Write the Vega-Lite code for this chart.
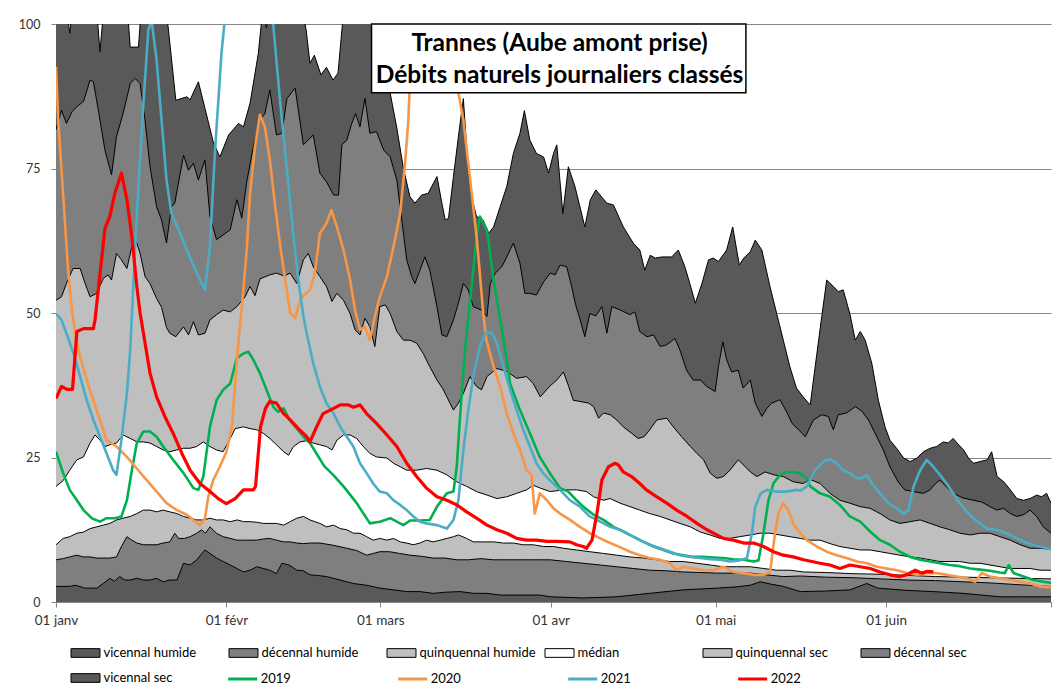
{
"$schema": "https://vega.github.io/schema/vega-lite/v6.json",
"width": 995,
"height": 578,
"autosize": {"type": "none"},
"padding": {"left": 56, "top": 24, "right": 7, "bottom": 92},
"background": "#ffffff",
"config": {"view": {"stroke": null}, "font": "Lato"},
"datasets": {
"vh": [{"d":0,"v":106},{"d":1.9,"v":103},{"d":2.5,"v":98.4},{"d":3.1,"v":103},{"d":7.2,"v":105},{"d":8,"v":95.2},{"d":8.8,"v":104},{"d":12.9,"v":104},{"d":13.5,"v":96},{"d":15,"v":96},{"d":15.6,"v":104},{"d":19.5,"v":105},{"d":20.4,"v":99.5},{"d":21.8,"v":86.8},{"d":23.8,"v":87.4},{"d":24.4,"v":86.9},{"d":25.9,"v":90},{"d":27.1,"v":85.4},{"d":28.6,"v":79.6},{"d":29.8,"v":77},{"d":31.4,"v":80.8},{"d":33.2,"v":82.8},{"d":34.1,"v":82.2},{"d":35.3,"v":86.3},{"d":36.8,"v":94.9},{"d":37.4,"v":100.5},{"d":37.9,"v":101},{"d":38.3,"v":99.3},{"d":38.8,"v":103},{"d":44.5,"v":104},{"d":45.5,"v":99},{"d":46.2,"v":93.2},{"d":47,"v":94.6},{"d":48.2,"v":91.2},{"d":49.2,"v":92.5},{"d":50.4,"v":90.3},{"d":51.3,"v":91.5},{"d":52.2,"v":101},{"d":53,"v":105},{"d":59.5,"v":102},{"d":60.8,"v":88},{"d":62,"v":82},{"d":63.2,"v":75},{"d":64.4,"v":70.1},{"d":65.3,"v":69},{"d":66.5,"v":70.4},{"d":67.7,"v":70.7},{"d":69.3,"v":73.6},{"d":70.2,"v":69},{"d":70.8,"v":66.1},{"d":71.4,"v":66.4},{"d":72.3,"v":73.6},{"d":73.2,"v":80.5},{"d":74.1,"v":87.1},{"d":75,"v":74.7},{"d":75.6,"v":70.1},{"d":76.5,"v":66.7},{"d":77.7,"v":66.1},{"d":78.7,"v":63.8},{"d":79.6,"v":64.9},{"d":80.8,"v":68.4},{"d":82,"v":71.9},{"d":83.2,"v":77.6},{"d":84.4,"v":81.1},{"d":85.2,"v":85},{"d":86.2,"v":79.9},{"d":87.4,"v":77.6},{"d":88.7,"v":77},{"d":89.6,"v":74.2},{"d":90.5,"v":77.6},{"d":91.1,"v":79.1},{"d":92.2,"v":67.2},{"d":93.2,"v":75.3},{"d":94.4,"v":71.9},{"d":96.2,"v":64.9},{"d":97.2,"v":69.6},{"d":98.2,"v":71.3},{"d":100.2,"v":69},{"d":101.4,"v":68.7},{"d":103.2,"v":64.9},{"d":105,"v":62.1},{"d":106.2,"v":60.9},{"d":107.1,"v":57.4},{"d":108.1,"v":60},{"d":109,"v":59.5},{"d":110.2,"v":59.7},{"d":112,"v":59.7},{"d":113.2,"v":60.9},{"d":114.4,"v":58},{"d":115.3,"v":55.1},{"d":116.3,"v":51.7},{"d":117.5,"v":55.1},{"d":118.7,"v":59.2},{"d":119.6,"v":59.5},{"d":120.5,"v":58.9},{"d":122,"v":60.9},{"d":123.1,"v":64.9},{"d":124.3,"v":58.3},{"d":125.1,"v":59.5},{"d":126.3,"v":60.6},{"d":127.2,"v":62.6},{"d":128.4,"v":60.9},{"d":129.9,"v":54.5},{"d":131.1,"v":49.9},{"d":132.3,"v":45.3},{"d":133.5,"v":40.7},{"d":134.7,"v":37},{"d":135.9,"v":35.5},{"d":137.2,"v":34.1},{"d":138.1,"v":40.7},{"d":139.3,"v":49.4},{"d":140.2,"v":55.7},{"d":141.4,"v":54.6},{"d":142.3,"v":53.7},{"d":143.2,"v":54},{"d":144.4,"v":49.9},{"d":145.4,"v":45.3},{"d":146.3,"v":46.8},{"d":147.2,"v":45.3},{"d":148.4,"v":41.3},{"d":149.6,"v":34.9},{"d":150.8,"v":30.3},{"d":151.7,"v":28},{"d":152.9,"v":26.6},{"d":154.2,"v":24.9},{"d":155.4,"v":24.3},{"d":156.6,"v":24.9},{"d":157.8,"v":26},{"d":159,"v":26.6},{"d":160.2,"v":26.9},{"d":161.4,"v":27.7},{"d":162.3,"v":27.5},{"d":163.2,"v":28.3},{"d":164.2,"v":27.2},{"d":165.1,"v":26.3},{"d":166,"v":24.9},{"d":166.9,"v":24},{"d":168.1,"v":24.3},{"d":169.4,"v":24.6},{"d":170.2,"v":26},{"d":171.2,"v":21.7},{"d":172.4,"v":20.8},{"d":173.6,"v":19.4},{"d":174.8,"v":17.9},{"d":176,"v":17.6},{"d":177.2,"v":17.9},{"d":178.4,"v":18.5},{"d":179.3,"v":18.2},{"d":180.2,"v":18.8},{"d":181,"v":17.1}],
"dh": [{"d":0,"v":81.7},{"d":1,"v":85.1},{"d":1.9,"v":82.8},{"d":2.9,"v":84.8},{"d":3.8,"v":85.7},{"d":5,"v":86.6},{"d":6.2,"v":90.3},{"d":6.8,"v":90},{"d":7.7,"v":85.1},{"d":8.9,"v":78.2},{"d":10.1,"v":73.9},{"d":11,"v":80.5},{"d":12.2,"v":84.5},{"d":13.5,"v":89.7},{"d":14.4,"v":90.6},{"d":15.3,"v":89.7},{"d":16.2,"v":83.4},{"d":17.1,"v":75.3},{"d":18.3,"v":68.4},{"d":19.2,"v":66.1},{"d":20.1,"v":62.1},{"d":21,"v":68.4},{"d":21.6,"v":69},{"d":23.2,"v":77.3},{"d":24.1,"v":74.7},{"d":25,"v":75.9},{"d":25.9,"v":73},{"d":27.1,"v":76.5},{"d":28,"v":66.7},{"d":29.2,"v":62.7},{"d":30.4,"v":63.5},{"d":31.7,"v":64.4},{"d":32.9,"v":69.6},{"d":33.8,"v":66.4},{"d":34.7,"v":72.7},{"d":35.9,"v":78.8},{"d":37.1,"v":83.4},{"d":38,"v":84.5},{"d":38.9,"v":88.6},{"d":40.1,"v":80.8},{"d":41.1,"v":81.1},{"d":42,"v":87.1},{"d":43.5,"v":88.9},{"d":45,"v":79.1},{"d":46.8,"v":80.8},{"d":48,"v":74.2},{"d":49.2,"v":72.7},{"d":50.5,"v":70.4},{"d":51.4,"v":70.4},{"d":52,"v":79.1},{"d":52.9,"v":79.9},{"d":53.8,"v":82.8},{"d":54.5,"v":84.5},{"d":55.3,"v":82.2},{"d":56.2,"v":87.1},{"d":57.1,"v":81.1},{"d":58.3,"v":81.4},{"d":59.6,"v":78.2},{"d":60.8,"v":77},{"d":62,"v":73},{"d":62.9,"v":66.1},{"d":63.8,"v":59.2},{"d":64.7,"v":56.3},{"d":65.3,"v":55.1},{"d":66.2,"v":57.4},{"d":67.1,"v":59.7},{"d":68,"v":57.4},{"d":69.3,"v":51.1},{"d":70.2,"v":46.2},{"d":71.1,"v":45.9},{"d":72.3,"v":48.8},{"d":73.2,"v":51.7},{"d":74.1,"v":55.1},{"d":75,"v":54},{"d":75.9,"v":51.1},{"d":77.4,"v":50.5},{"d":78.4,"v":49.4},{"d":79,"v":55.1},{"d":79.9,"v":56.9},{"d":81.1,"v":58},{"d":82,"v":59.7},{"d":83.2,"v":62.1},{"d":84.4,"v":58.6},{"d":85.3,"v":53.4},{"d":86.2,"v":53.4},{"d":87.4,"v":53.1},{"d":88.7,"v":55.4},{"d":89.9,"v":56.9},{"d":90.8,"v":56.6},{"d":91.7,"v":58.3},{"d":92.9,"v":58},{"d":93.7,"v":55},{"d":94.5,"v":51.5},{"d":95.3,"v":49},{"d":96.2,"v":45.9},{"d":97.1,"v":49.9},{"d":98.2,"v":49.5},{"d":99.3,"v":51.1},{"d":100.2,"v":46.5},{"d":101.1,"v":51.1},{"d":102.7,"v":50.5},{"d":104.4,"v":49.7},{"d":105.3,"v":50.2},{"d":106.2,"v":46.8},{"d":107.5,"v":45.9},{"d":108.7,"v":46.2},{"d":109.9,"v":44.2},{"d":111.1,"v":44.5},{"d":112.6,"v":45.6},{"d":113.5,"v":43.6},{"d":114.7,"v":40.1},{"d":115.9,"v":38.4},{"d":117.2,"v":38.4},{"d":118.4,"v":37.3},{"d":119.9,"v":36.4},{"d":120.5,"v":40.7},{"d":121.3,"v":45},{"d":122,"v":41.9},{"d":122.9,"v":39.8},{"d":124.1,"v":40.1},{"d":125,"v":37},{"d":126.3,"v":38.4},{"d":127.2,"v":34.4},{"d":128.4,"v":32.1},{"d":129.3,"v":33.5},{"d":130.2,"v":34.4},{"d":131.7,"v":35},{"d":132.9,"v":32.9},{"d":133.9,"v":30.9},{"d":135.1,"v":29.8},{"d":136.3,"v":28.6},{"d":137.8,"v":31.5},{"d":139.3,"v":32.4},{"d":140.5,"v":32.1},{"d":141.4,"v":29.8},{"d":142.3,"v":32.4},{"d":143.8,"v":32.7},{"d":145.4,"v":33.8},{"d":146.6,"v":33},{"d":147.8,"v":31.5},{"d":149.3,"v":28.6},{"d":150.5,"v":26.3},{"d":151.7,"v":23.4},{"d":153.2,"v":20.8},{"d":154.4,"v":19.4},{"d":156,"v":19.1},{"d":157.8,"v":18.8},{"d":159,"v":19.4},{"d":160,"v":20.5},{"d":160.8,"v":21.1},{"d":162,"v":19.9},{"d":163.2,"v":18.8},{"d":165,"v":18},{"d":166.9,"v":17.6},{"d":168.4,"v":17.3},{"d":169.9,"v":16.5},{"d":171.1,"v":15.9},{"d":172.4,"v":16.2},{"d":173.6,"v":15.3},{"d":174.8,"v":14.8},{"d":176,"v":15.1},{"d":177.2,"v":15.9},{"d":178.4,"v":14.8},{"d":179.6,"v":13},{"d":181,"v":11.9}],
"qh": [{"d":0,"v":52.2},{"d":1,"v":52.8},{"d":1.9,"v":55.1},{"d":3.1,"v":57.7},{"d":4.4,"v":57.7},{"d":5.3,"v":55.1},{"d":6.2,"v":52.8},{"d":7.4,"v":53.4},{"d":8.6,"v":56},{"d":9.5,"v":56.6},{"d":10.1,"v":55.7},{"d":11,"v":60.3},{"d":11.9,"v":59.2},{"d":12.9,"v":57.7},{"d":13.8,"v":61.5},{"d":14.7,"v":62.1},{"d":15.3,"v":60.3},{"d":16.2,"v":56.3},{"d":17.1,"v":55.1},{"d":18.3,"v":52.5},{"d":19.2,"v":51},{"d":20.1,"v":47.5},{"d":20.7,"v":46.5},{"d":21.8,"v":45.9},{"d":23.2,"v":47.6},{"d":24.1,"v":46.2},{"d":25,"v":48.5},{"d":25.9,"v":46.2},{"d":27.1,"v":46.5},{"d":28,"v":48.8},{"d":29.2,"v":49.7},{"d":30.4,"v":50.5},{"d":31.7,"v":50.2},{"d":32.9,"v":51.1},{"d":34.4,"v":52.8},{"d":35.3,"v":54.6},{"d":36.2,"v":53},{"d":37.1,"v":55.9},{"d":38.9,"v":56.6},{"d":40.1,"v":56.9},{"d":41.5,"v":56.4},{"d":42.6,"v":56.9},{"d":43.8,"v":55.1},{"d":45,"v":59.2},{"d":45.9,"v":60.3},{"d":46.8,"v":58},{"d":48,"v":56.3},{"d":49.2,"v":54.6},{"d":50.2,"v":52},{"d":51.1,"v":53.4},{"d":52.3,"v":52.2},{"d":53.5,"v":49.9},{"d":54.4,"v":47.1},{"d":55.3,"v":46.2},{"d":56.2,"v":49.1},{"d":57.1,"v":47.6},{"d":58,"v":44.2},{"d":58.9,"v":51.1},{"d":59.9,"v":51.4},{"d":60.8,"v":49.9},{"d":62,"v":46.8},{"d":63.2,"v":45.3},{"d":64.4,"v":45.3},{"d":65.6,"v":44.8},{"d":66.8,"v":43},{"d":68,"v":40.7},{"d":69.3,"v":38.4},{"d":70.3,"v":37},{"d":71.1,"v":35.5},{"d":72.3,"v":33.2},{"d":73.2,"v":34.4},{"d":74.1,"v":36.1},{"d":75.3,"v":39},{"d":76.5,"v":37.3},{"d":77.4,"v":36.7},{"d":78.4,"v":39},{"d":80.2,"v":40.4},{"d":82,"v":39.9},{"d":83.8,"v":38.7},{"d":85.6,"v":39},{"d":86.8,"v":37.8},{"d":88.1,"v":35.5},{"d":89.9,"v":37.4},{"d":91.1,"v":38.4},{"d":92.3,"v":39.8},{"d":93.2,"v":37.5},{"d":94.1,"v":34.9},{"d":95.3,"v":34.7},{"d":96.9,"v":34.4},{"d":97.8,"v":33.8},{"d":98.7,"v":31.8},{"d":99.6,"v":32.7},{"d":100.8,"v":32.4},{"d":102,"v":31.5},{"d":103.2,"v":30.3},{"d":104.7,"v":29.2},{"d":105.9,"v":28.3},{"d":107,"v":28.6},{"d":108,"v":29.8},{"d":109.3,"v":31.5},{"d":111.1,"v":31.8},{"d":112.3,"v":30.3},{"d":113.8,"v":28.6},{"d":115.4,"v":26.9},{"d":116.6,"v":25.7},{"d":117.8,"v":24.6},{"d":119,"v":22.3},{"d":120.2,"v":21.4},{"d":121.4,"v":21.7},{"d":122.6,"v":22.8},{"d":124.1,"v":24.6},{"d":125.3,"v":23.5},{"d":126.3,"v":22.5},{"d":127.5,"v":21.7},{"d":129,"v":22.5},{"d":130.6,"v":22},{"d":132.3,"v":21.7},{"d":134.1,"v":20.8},{"d":135.9,"v":20.5},{"d":137.2,"v":21.2},{"d":139,"v":20.5},{"d":140.8,"v":18.8},{"d":142.6,"v":17.6},{"d":144.4,"v":17.1},{"d":146.3,"v":16.5},{"d":148.1,"v":16.2},{"d":149.9,"v":15.3},{"d":151.7,"v":14.2},{"d":153.5,"v":13.6},{"d":155.4,"v":13.9},{"d":157.2,"v":14.2},{"d":159,"v":13.6},{"d":160.8,"v":13},{"d":162.6,"v":12.5},{"d":164.4,"v":11.9},{"d":166.3,"v":11.6},{"d":168.1,"v":11.9},{"d":169.9,"v":11.9},{"d":171.7,"v":11.3},{"d":173.6,"v":10.7},{"d":175.4,"v":9.9},{"d":177.2,"v":9.3},{"d":179,"v":9.3},{"d":181,"v":9.1}],
"med": [{"d":0,"v":20},{"d":1.3,"v":21},{"d":2.5,"v":22.8},{"d":3.8,"v":24.6},{"d":5,"v":25.1},{"d":6.2,"v":27.5},{"d":7.1,"v":28.9},{"d":8,"v":28},{"d":8.9,"v":26.9},{"d":9.8,"v":27.2},{"d":11,"v":27.5},{"d":12.2,"v":28.9},{"d":13.5,"v":28.3},{"d":14.7,"v":27.7},{"d":15.9,"v":27.7},{"d":17.1,"v":27.5},{"d":18.3,"v":26.9},{"d":19.5,"v":26.3},{"d":20.7,"v":26},{"d":21.9,"v":26.3},{"d":23.2,"v":26.6},{"d":24.4,"v":26.6},{"d":25.6,"v":26.9},{"d":26.8,"v":27.7},{"d":28,"v":26.9},{"d":29.2,"v":26.3},{"d":30.4,"v":26},{"d":31.7,"v":28.3},{"d":32.6,"v":30},{"d":34.1,"v":30.3},{"d":35.3,"v":30},{"d":36.5,"v":29.8},{"d":37.7,"v":29.2},{"d":38.9,"v":28.3},{"d":40.1,"v":27.2},{"d":41.4,"v":26},{"d":42.3,"v":25.4},{"d":43.2,"v":26.9},{"d":44.4,"v":27.7},{"d":45.6,"v":27.9},{"d":46.8,"v":27.5},{"d":48,"v":27.2},{"d":49.2,"v":26.9},{"d":50.2,"v":26.3},{"d":51.1,"v":28},{"d":52.3,"v":28.9},{"d":53.5,"v":28.9},{"d":54.7,"v":28.3},{"d":55.9,"v":26.9},{"d":57.1,"v":25.7},{"d":58.3,"v":25.1},{"d":60.2,"v":24.9},{"d":61.4,"v":24},{"d":62.6,"v":23.4},{"d":63.8,"v":22.8},{"d":65.6,"v":22.8},{"d":67.4,"v":23.1},{"d":69.3,"v":22.8},{"d":71.1,"v":22},{"d":72.9,"v":20.8},{"d":74.7,"v":20},{"d":76.5,"v":19.1},{"d":78.4,"v":18.5},{"d":80.2,"v":17.9},{"d":82,"v":18.2},{"d":83.8,"v":18.8},{"d":85.6,"v":19.4},{"d":86.8,"v":20.2},{"d":88.1,"v":19.7},{"d":89.9,"v":19.1},{"d":92.3,"v":19.4},{"d":94.7,"v":19.4},{"d":96.5,"v":19.1},{"d":97.8,"v":18.2},{"d":99.6,"v":17.6},{"d":100.8,"v":17.9},{"d":102.6,"v":17.1},{"d":104.4,"v":16.5},{"d":106.2,"v":15.9},{"d":108,"v":15.3},{"d":109.9,"v":14.8},{"d":111.7,"v":14.2},{"d":113.5,"v":13.6},{"d":115.4,"v":13},{"d":117.2,"v":12.1},{"d":119,"v":11.6},{"d":120.8,"v":11},{"d":122.6,"v":11},{"d":124.4,"v":11.3},{"d":126.3,"v":11.6},{"d":128.1,"v":11.9},{"d":129.9,"v":11.9},{"d":131.7,"v":11.6},{"d":133.5,"v":11.3},{"d":135.4,"v":11},{"d":137.2,"v":10.7},{"d":139,"v":10.7},{"d":140.8,"v":10.1},{"d":142.6,"v":9.6},{"d":144.4,"v":9.3},{"d":146.3,"v":9},{"d":148.1,"v":9},{"d":149.9,"v":8.7},{"d":151.7,"v":8.4},{"d":153.5,"v":8.1},{"d":155.4,"v":7.8},{"d":157.2,"v":7.6},{"d":159,"v":7.3},{"d":160.8,"v":7},{"d":162.6,"v":7},{"d":164.4,"v":7},{"d":166.3,"v":6.7},{"d":168.1,"v":6.7},{"d":169.9,"v":6.4},{"d":171.7,"v":6.1},{"d":173.6,"v":5.8},{"d":175.4,"v":5.8},{"d":177.2,"v":5.8},{"d":179,"v":5.5},{"d":181,"v":5.5}],
"qs": [{"d":0,"v":9.9},{"d":1.3,"v":11},{"d":2.5,"v":11.3},{"d":3.8,"v":11.9},{"d":5,"v":12.1},{"d":6.2,"v":12.7},{"d":7.4,"v":13},{"d":8.6,"v":13.3},{"d":9.8,"v":13.6},{"d":11,"v":14.2},{"d":12.2,"v":14.5},{"d":13.5,"v":14.8},{"d":14.7,"v":15.3},{"d":15.9,"v":15.9},{"d":17.1,"v":15.9},{"d":18.3,"v":15.6},{"d":19.5,"v":15.9},{"d":20.7,"v":15.6},{"d":22,"v":15.3},{"d":23.2,"v":14.8},{"d":24.4,"v":14.5},{"d":25.6,"v":14.2},{"d":26.8,"v":14.2},{"d":28,"v":14.5},{"d":29.2,"v":14.2},{"d":30.4,"v":14.2},{"d":31.7,"v":13.9},{"d":33,"v":14.2},{"d":34.1,"v":13.9},{"d":35.3,"v":13.9},{"d":36.5,"v":13.8},{"d":37.7,"v":13.6},{"d":38.9,"v":13.6},{"d":40.1,"v":13.6},{"d":41.4,"v":13.3},{"d":42.6,"v":13.9},{"d":43.8,"v":14.5},{"d":45,"v":14.8},{"d":46.2,"v":14.2},{"d":48,"v":13.6},{"d":49.2,"v":13},{"d":50.5,"v":13.3},{"d":51.7,"v":12.7},{"d":52.9,"v":12.5},{"d":54.1,"v":11.9},{"d":55.3,"v":11.9},{"d":56.5,"v":11.3},{"d":57.7,"v":10.7},{"d":58.9,"v":11},{"d":60.2,"v":10.7},{"d":61.4,"v":11},{"d":62.6,"v":10.4},{"d":63.8,"v":10.2},{"d":65,"v":9.9},{"d":66.2,"v":10.2},{"d":67.4,"v":10.7},{"d":68.6,"v":10.4},{"d":69.9,"v":10.7},{"d":71.1,"v":11},{"d":72.3,"v":11.3},{"d":73.2,"v":11.6},{"d":74.7,"v":11},{"d":75.9,"v":10.4},{"d":77.7,"v":10.4},{"d":79.6,"v":10.4},{"d":81.4,"v":10.2},{"d":83.2,"v":10.2},{"d":85,"v":9.9},{"d":86.8,"v":9.9},{"d":88.7,"v":9.6},{"d":90.5,"v":9.6},{"d":92.3,"v":9.3},{"d":94.7,"v":9},{"d":97.1,"v":8.7},{"d":99.6,"v":8.4},{"d":102,"v":8.1},{"d":104.4,"v":7.8},{"d":106.9,"v":7.6},{"d":109.3,"v":7.3},{"d":111.7,"v":7},{"d":114.1,"v":7},{"d":116.6,"v":6.7},{"d":119,"v":6.4},{"d":121.4,"v":6.1},{"d":123.8,"v":6.1},{"d":126.3,"v":6.1},{"d":128.7,"v":5.8},{"d":131.1,"v":5.5},{"d":133.5,"v":5.5},{"d":136,"v":5.2},{"d":140,"v":5.1},{"d":145,"v":4.9},{"d":150,"v":4.8},{"d":155,"v":4.6},{"d":160,"v":4.4},{"d":165,"v":4.3},{"d":170,"v":4.2},{"d":175,"v":4.1},{"d":181,"v":4}],
"ds": [{"d":0,"v":7.3},{"d":1.3,"v":7.5},{"d":2.5,"v":7.8},{"d":3.8,"v":8.1},{"d":5,"v":7.8},{"d":6.2,"v":7.8},{"d":7.4,"v":7.6},{"d":8.6,"v":7.6},{"d":9.8,"v":7.6},{"d":11,"v":7.8},{"d":11.9,"v":9.6},{"d":12.9,"v":11.3},{"d":13.8,"v":10.7},{"d":14.7,"v":10.2},{"d":15.9,"v":9.9},{"d":17.1,"v":9.9},{"d":18.3,"v":9.9},{"d":19.5,"v":10.2},{"d":20.7,"v":10.4},{"d":21.6,"v":11.9},{"d":22.3,"v":11},{"d":23.4,"v":11},{"d":24.4,"v":11.3},{"d":25.6,"v":11.9},{"d":26.5,"v":12.5},{"d":27.2,"v":11.9},{"d":28,"v":13},{"d":29.2,"v":11.9},{"d":30.4,"v":11.3},{"d":31.7,"v":11},{"d":32.9,"v":10.7},{"d":34.1,"v":10.7},{"d":35.3,"v":10.7},{"d":36.5,"v":10.7},{"d":37.7,"v":10.9},{"d":38.9,"v":11},{"d":40.1,"v":10.7},{"d":41.4,"v":10.4},{"d":42.6,"v":10.4},{"d":43.8,"v":10.2},{"d":45,"v":10.1},{"d":46.3,"v":10.2},{"d":48,"v":10.2},{"d":50.5,"v":9.8},{"d":52.9,"v":9.3},{"d":54.7,"v":8.9},{"d":56.5,"v":8.1},{"d":57.7,"v":8.4},{"d":58.9,"v":8.7},{"d":60.7,"v":8.7},{"d":62.5,"v":8.4},{"d":64.4,"v":8.1},{"d":66.5,"v":7.9},{"d":68.6,"v":7.6},{"d":70.8,"v":7.6},{"d":72.9,"v":7.3},{"d":75,"v":7.3},{"d":77.3,"v":7.5},{"d":79.6,"v":7.3},{"d":82,"v":7.3},{"d":84.4,"v":7.3},{"d":86.8,"v":7.3},{"d":89.9,"v":7.3},{"d":92.9,"v":7},{"d":95.9,"v":6.7},{"d":99,"v":6.4},{"d":102,"v":6.1},{"d":105,"v":5.8},{"d":108,"v":5.5},{"d":111,"v":5.4},{"d":114.1,"v":5.2},{"d":117.2,"v":5.1},{"d":120.2,"v":5},{"d":123.2,"v":5},{"d":126.3,"v":5},{"d":129.3,"v":4.7},{"d":132.3,"v":4.4},{"d":135.4,"v":4.5},{"d":140,"v":4.3},{"d":145,"v":4.2},{"d":150,"v":4},{"d":155,"v":3.8},{"d":160,"v":3.7},{"d":165,"v":3.5},{"d":170,"v":3.3},{"d":175,"v":3},{"d":181,"v":2.7}],
"vs": [{"d":0,"v":2.7},{"d":2.5,"v":2.7},{"d":3.5,"v":2.9},{"d":5.3,"v":2.4},{"d":7.4,"v":2.4},{"d":8.6,"v":3.2},{"d":9.8,"v":4.1},{"d":10.6,"v":3.6},{"d":11.6,"v":4.4},{"d":12.5,"v":3.8},{"d":13.5,"v":3.8},{"d":14.7,"v":4.1},{"d":15.9,"v":3.8},{"d":17.1,"v":3.8},{"d":18.3,"v":4.1},{"d":19.5,"v":3.5},{"d":20.7,"v":3.8},{"d":22,"v":3.8},{"d":23.2,"v":6.7},{"d":24.4,"v":6.4},{"d":25.6,"v":7.3},{"d":27.1,"v":9},{"d":28,"v":8.4},{"d":29.2,"v":7.6},{"d":30.4,"v":7},{"d":31.7,"v":6.4},{"d":32.9,"v":5.8},{"d":34.1,"v":5.2},{"d":35.3,"v":5.5},{"d":36.5,"v":6.1},{"d":37.7,"v":5.8},{"d":38.9,"v":5.5},{"d":40.1,"v":4.9},{"d":41.1,"v":6.7},{"d":42.4,"v":6.4},{"d":43.8,"v":5.5},{"d":45,"v":5.4},{"d":46.2,"v":4.7},{"d":47.5,"v":4.6},{"d":49.2,"v":4.4},{"d":51.7,"v":3.8},{"d":54.1,"v":3.2},{"d":56.5,"v":2.9},{"d":58.9,"v":2.4},{"d":61.4,"v":2.1},{"d":63.8,"v":1.8},{"d":66.2,"v":1.8},{"d":68.6,"v":1.5},{"d":71,"v":1.7},{"d":73.5,"v":1.8},{"d":76,"v":1.5},{"d":78.4,"v":1.5},{"d":80.8,"v":1.2},{"d":84.4,"v":1.2},{"d":88,"v":1.2},{"d":90,"v":0.9},{"d":96,"v":0.7},{"d":102,"v":0.9},{"d":108,"v":1.5},{"d":114.1,"v":2.1},{"d":120.2,"v":2.4},{"d":123.5,"v":2.6},{"d":126.3,"v":2.9},{"d":128.1,"v":3.5},{"d":130,"v":3.1},{"d":132.3,"v":2.7},{"d":135.4,"v":1.8},{"d":140,"v":1.9},{"d":144.4,"v":2.1},{"d":147.5,"v":3.2},{"d":149.5,"v":2.4},{"d":155,"v":2},{"d":159.6,"v":1.8},{"d":165,"v":1.5},{"d":171.7,"v":0.9},{"d":176,"v":0.9},{"d":181,"v":0.9}],
"y2019": [{"d":0,"v":26},{"d":1.3,"v":22.3},{"d":2.5,"v":19.4},{"d":3.8,"v":17.6},{"d":5,"v":15.9},{"d":6.5,"v":14.5},{"d":8,"v":13.9},{"d":9.2,"v":14.5},{"d":10.7,"v":14.5},{"d":11.9,"v":14.8},{"d":12.9,"v":17.6},{"d":13.8,"v":22.8},{"d":14.7,"v":27.5},{"d":15.9,"v":29.5},{"d":17.1,"v":29.5},{"d":18.3,"v":28.6},{"d":19.5,"v":26.9},{"d":21.3,"v":24.6},{"d":23.2,"v":22.3},{"d":25,"v":19.7},{"d":25.9,"v":19.4},{"d":26.8,"v":21.7},{"d":28,"v":30.3},{"d":29.2,"v":34.9},{"d":30.4,"v":36.7},{"d":31.7,"v":37.8},{"d":32.9,"v":42.2},{"d":34.1,"v":43},{"d":35,"v":43.3},{"d":35.9,"v":41.9},{"d":37.1,"v":39.6},{"d":38.3,"v":36.7},{"d":39.5,"v":33.8},{"d":40.4,"v":32.9},{"d":41.4,"v":33.5},{"d":42.5,"v":31.5},{"d":45.1,"v":28.5},{"d":46.2,"v":27.5},{"d":48.8,"v":23.5},{"d":50.5,"v":21.9},{"d":52.3,"v":20},{"d":54.7,"v":17.1},{"d":57.1,"v":13.6},{"d":58.9,"v":13.9},{"d":60.8,"v":14.5},{"d":62,"v":13.9},{"d":63.2,"v":13.3},{"d":64.4,"v":14.1},{"d":66.2,"v":14.1},{"d":68,"v":14.2},{"d":69.3,"v":16.5},{"d":71.1,"v":18.8},{"d":72.3,"v":19.1},{"d":72.9,"v":23.4},{"d":73.5,"v":32.1},{"d":74.4,"v":43.6},{"d":75.6,"v":54.6},{"d":76.5,"v":63},{"d":77.1,"v":66.7},{"d":78.4,"v":64.4},{"d":79.6,"v":55.7},{"d":80.8,"v":48.8},{"d":82,"v":41.9},{"d":82.6,"v":37.8},{"d":84.4,"v":33.2},{"d":86.2,"v":29.2},{"d":88,"v":25.1},{"d":89.9,"v":22.2},{"d":91.7,"v":19.7},{"d":93.2,"v":19.1},{"d":94.7,"v":17.6},{"d":95.9,"v":16.5},{"d":97.8,"v":15.1},{"d":99.6,"v":14.2},{"d":101.4,"v":13},{"d":103.2,"v":12.2},{"d":105,"v":11.3},{"d":106.9,"v":10.4},{"d":108.7,"v":9.6},{"d":110.5,"v":9},{"d":112.3,"v":8.4},{"d":114.1,"v":8.1},{"d":116,"v":7.8},{"d":117.8,"v":7.8},{"d":119.6,"v":7.7},{"d":121.4,"v":7.6},{"d":123.2,"v":7.4},{"d":125.1,"v":7.3},{"d":126.9,"v":7},{"d":127.8,"v":7.2},{"d":128.7,"v":11.9},{"d":129.6,"v":17.6},{"d":130.5,"v":20.5},{"d":131.7,"v":22},{"d":132.9,"v":22.5},{"d":134.1,"v":22.5},{"d":135.3,"v":22.3},{"d":136.5,"v":21.4},{"d":137.2,"v":20},{"d":139,"v":18.8},{"d":140.8,"v":18.2},{"d":142.6,"v":16.8},{"d":144.4,"v":14.8},{"d":146.3,"v":13.9},{"d":148.1,"v":12.2},{"d":149.9,"v":10.7},{"d":151.7,"v":9.9},{"d":153.5,"v":8.7},{"d":155.4,"v":7.8},{"d":157.2,"v":7.3},{"d":159,"v":7},{"d":160.8,"v":6.7},{"d":162.6,"v":6.4},{"d":164.4,"v":6.2},{"d":166.3,"v":5.8},{"d":168.1,"v":5.6},{"d":169.9,"v":5.4},{"d":171.7,"v":5.1},{"d":172.6,"v":5},{"d":173.3,"v":6.4},{"d":174.2,"v":5},{"d":176,"v":4.4},{"d":177.8,"v":3.8},{"d":179.6,"v":3.5},{"d":181,"v":3.3}],
"y2020": [{"d":0,"v":92.6},{"d":0.4,"v":83.4},{"d":1,"v":74.7},{"d":1.6,"v":66.1},{"d":2.2,"v":57.4},{"d":2.9,"v":50.5},{"d":3.5,"v":46.5},{"d":4.4,"v":42.4},{"d":5.6,"v":38.4},{"d":6.8,"v":34.9},{"d":8,"v":31.5},{"d":9.2,"v":28},{"d":11,"v":26.9},{"d":12.9,"v":25.1},{"d":14.7,"v":23.1},{"d":16.5,"v":21.1},{"d":18.3,"v":19.1},{"d":20.1,"v":17.1},{"d":22,"v":15.9},{"d":23.8,"v":15.1},{"d":25,"v":14.2},{"d":26.2,"v":13.3},{"d":27.1,"v":14.5},{"d":27.7,"v":18.2},{"d":28.6,"v":21.1},{"d":29.8,"v":23.4},{"d":31,"v":26},{"d":32,"v":30.3},{"d":32.6,"v":37.8},{"d":33.2,"v":45.3},{"d":33.8,"v":51},{"d":34.7,"v":60.9},{"d":35.3,"v":70.7},{"d":36.2,"v":78.8},{"d":37.1,"v":84.3},{"d":38,"v":82.2},{"d":38.9,"v":76.5},{"d":39.8,"v":69},{"d":40.8,"v":61.5},{"d":41.7,"v":55.7},{"d":42.6,"v":50},{"d":43.5,"v":49.1},{"d":44.5,"v":52.5},{"d":46.2,"v":54},{"d":47.1,"v":56.9},{"d":48,"v":63.8},{"d":49.2,"v":65.5},{"d":50.1,"v":67.8},{"d":51.1,"v":64.9},{"d":52.3,"v":60.9},{"d":53.5,"v":55.7},{"d":54.4,"v":50.5},{"d":55.3,"v":47.1},{"d":56.2,"v":47.6},{"d":57.1,"v":45.3},{"d":58,"v":49.4},{"d":58.9,"v":52.8},{"d":60.2,"v":56.3},{"d":61.4,"v":61.5},{"d":62.6,"v":67.2},{"d":63.5,"v":75.9},{"d":64.1,"v":83.4},{"d":65,"v":105},{"d":66,"v":125},{"d":70,"v":130},{"d":72,"v":105},{"d":73.2,"v":88.1},{"d":74.1,"v":83.4},{"d":75,"v":75.9},{"d":75.9,"v":68.4},{"d":76.5,"v":63.2},{"d":77.1,"v":56.9},{"d":77.7,"v":50},{"d":78.3,"v":45.3},{"d":79.6,"v":40.7},{"d":80.8,"v":37.3},{"d":82,"v":32.6},{"d":83.2,"v":29.2},{"d":84.4,"v":26.3},{"d":85.6,"v":22.8},{"d":86.5,"v":22},{"d":87.1,"v":15.3},{"d":88,"v":18.8},{"d":89.3,"v":17.6},{"d":90.5,"v":16.2},{"d":91.7,"v":15.3},{"d":93.5,"v":14.2},{"d":95.3,"v":13},{"d":97.1,"v":11.9},{"d":99,"v":11},{"d":100.8,"v":10.2},{"d":102.6,"v":9.5},{"d":104.4,"v":8.7},{"d":106.2,"v":8.1},{"d":108,"v":7.6},{"d":109.9,"v":7.3},{"d":111.7,"v":6.7},{"d":112.9,"v":5.5},{"d":114.1,"v":6.1},{"d":116,"v":5.8},{"d":117.8,"v":5.5},{"d":119.6,"v":5.5},{"d":121.4,"v":6.1},{"d":123.2,"v":5.2},{"d":125.1,"v":5},{"d":126.9,"v":4.7},{"d":128.7,"v":4.7},{"d":129.9,"v":5.2},{"d":130.8,"v":11.9},{"d":131.4,"v":15.3},{"d":132.3,"v":17.1},{"d":133.2,"v":15.9},{"d":134.1,"v":13.6},{"d":135.3,"v":12},{"d":136.6,"v":10.7},{"d":138.4,"v":9.6},{"d":140.2,"v":8.7},{"d":142,"v":8.1},{"d":143.8,"v":7.6},{"d":145.7,"v":7},{"d":147.5,"v":6.7},{"d":149.3,"v":6.1},{"d":151.1,"v":5.8},{"d":153,"v":5.5},{"d":154.8,"v":5},{"d":156.6,"v":4.7},{"d":158.4,"v":5},{"d":160.2,"v":5},{"d":162,"v":4.7},{"d":163.9,"v":4.4},{"d":165.7,"v":4.1},{"d":167.2,"v":3.5},{"d":168.4,"v":5},{"d":169.9,"v":4.4},{"d":171.7,"v":4.1},{"d":173.6,"v":3.8},{"d":175.4,"v":3.5},{"d":177.2,"v":3.2},{"d":179,"v":2.7},{"d":181,"v":2.5}],
"y2021": [{"d":0,"v":49.9},{"d":1,"v":48.8},{"d":1.9,"v":46.5},{"d":3.2,"v":43},{"d":4.4,"v":39},{"d":5.6,"v":34.9},{"d":6.8,"v":31.5},{"d":8,"v":28.6},{"d":9.2,"v":25.7},{"d":10.4,"v":22.8},{"d":11,"v":22},{"d":11.9,"v":28},{"d":12.9,"v":36.1},{"d":13.5,"v":43.6},{"d":14.4,"v":61.5},{"d":15,"v":71.9},{"d":15.9,"v":86.3},{"d":16.8,"v":99},{"d":17.4,"v":100.5},{"d":18.3,"v":93.8},{"d":19.2,"v":83.4},{"d":20.1,"v":73},{"d":21,"v":67.2},{"d":22.3,"v":64.4},{"d":23.8,"v":60.9},{"d":25.6,"v":56.9},{"d":27.1,"v":54},{"d":28,"v":61.5},{"d":28.9,"v":77.6},{"d":29.5,"v":86.3},{"d":30.1,"v":94.9},{"d":30.7,"v":100.7},{"d":31.5,"v":110},{"d":35,"v":150},{"d":38.7,"v":110},{"d":39.5,"v":100},{"d":40.8,"v":86.3},{"d":41.4,"v":80.5},{"d":42.3,"v":71.9},{"d":43.2,"v":63.2},{"d":44.1,"v":55.7},{"d":45,"v":49.5},{"d":45.6,"v":46.5},{"d":46.8,"v":41.3},{"d":48,"v":37.3},{"d":49.2,"v":34.4},{"d":50.5,"v":32.6},{"d":51.7,"v":30.3},{"d":52.9,"v":28.6},{"d":54.1,"v":26.9},{"d":55.3,"v":24},{"d":56.5,"v":22.3},{"d":57.7,"v":20.5},{"d":58.9,"v":19.1},{"d":60.2,"v":18.8},{"d":61.4,"v":17.6},{"d":62.6,"v":16.8},{"d":63.8,"v":15.9},{"d":65,"v":14.8},{"d":66.2,"v":13.9},{"d":67.4,"v":13.6},{"d":69.3,"v":13.3},{"d":71.1,"v":12.7},{"d":72.3,"v":14.2},{"d":73.2,"v":17.6},{"d":74.1,"v":26.3},{"d":75,"v":33.2},{"d":75.9,"v":39},{"d":77.1,"v":44.2},{"d":78.3,"v":46.8},{"d":79.3,"v":46.5},{"d":80.2,"v":44.8},{"d":81.4,"v":40.7},{"d":82.6,"v":36.7},{"d":83.8,"v":33.2},{"d":85,"v":29.8},{"d":86.2,"v":26.9},{"d":87.4,"v":24},{"d":88.6,"v":22.3},{"d":89.9,"v":21},{"d":91.7,"v":19.4},{"d":93.5,"v":17.6},{"d":95.3,"v":16.5},{"d":97.1,"v":14.8},{"d":99,"v":13.9},{"d":100.8,"v":13},{"d":102.6,"v":12.5},{"d":104.4,"v":11.6},{"d":106.2,"v":10.7},{"d":108,"v":9.9},{"d":109.9,"v":9.3},{"d":111.7,"v":8.7},{"d":113.5,"v":8.1},{"d":115.4,"v":7.8},{"d":117.2,"v":7.6},{"d":119,"v":7.4},{"d":120.8,"v":7.3},{"d":122.6,"v":7},{"d":124.4,"v":7.2},{"d":125.7,"v":7.6},{"d":126.6,"v":11.9},{"d":127.2,"v":16.5},{"d":128.2,"v":18.8},{"d":129.3,"v":19.4},{"d":131.1,"v":19.1},{"d":132.9,"v":19.1},{"d":134.7,"v":19.4},{"d":135.5,"v":19.3},{"d":136.6,"v":20},{"d":138.1,"v":22.8},{"d":139.6,"v":24.3},{"d":140.8,"v":24.7},{"d":142,"v":24},{"d":143.2,"v":22.8},{"d":144.4,"v":22.3},{"d":145.7,"v":21.4},{"d":146.6,"v":21.4},{"d":147.5,"v":22},{"d":148.4,"v":20.5},{"d":149.9,"v":18.8},{"d":151.4,"v":17.1},{"d":152.9,"v":16.2},{"d":154.2,"v":15.3},{"d":155.1,"v":15.9},{"d":156,"v":20},{"d":157.2,"v":22.8},{"d":158.4,"v":24.6},{"d":159.6,"v":23.4},{"d":160.8,"v":22},{"d":162,"v":20.5},{"d":163.2,"v":18.8},{"d":164.4,"v":17.1},{"d":165.7,"v":15.6},{"d":166.9,"v":14.5},{"d":168.1,"v":13.6},{"d":169.3,"v":12.7},{"d":171.1,"v":12.5},{"d":172.9,"v":11.9},{"d":174.8,"v":11},{"d":176.6,"v":10.2},{"d":178.4,"v":9.7},{"d":180.2,"v":9.3},{"d":181,"v":9.1}],
"y2022": [{"d":0,"v":35.2},{"d":1,"v":37.3},{"d":2,"v":36.8},{"d":3,"v":36.8},{"d":3.8,"v":46.8},{"d":5,"v":47.3},{"d":6.8,"v":47.3},{"d":7.1,"v":48.8},{"d":8.9,"v":64.6},{"d":9.8,"v":66.7},{"d":10.7,"v":70.7},{"d":11.9,"v":74.2},{"d":12.9,"v":69.6},{"d":13.8,"v":63.2},{"d":14.7,"v":54.6},{"d":15.3,"v":50},{"d":16.2,"v":44.8},{"d":17.1,"v":39.6},{"d":18.3,"v":35.5},{"d":19.8,"v":32.1},{"d":21.3,"v":29.2},{"d":22.9,"v":25.7},{"d":24.4,"v":22.8},{"d":26.2,"v":20.5},{"d":28,"v":19.1},{"d":29.5,"v":17.9},{"d":31,"v":17},{"d":32.6,"v":17.9},{"d":34.1,"v":19.4},{"d":35.9,"v":19.4},{"d":36.3,"v":20},{"d":37.2,"v":30.3},{"d":38.1,"v":33.5},{"d":38.9,"v":34.7},{"d":40.1,"v":34.4},{"d":41.4,"v":32.6},{"d":42.6,"v":31.5},{"d":44.1,"v":30},{"d":45.6,"v":28.6},{"d":46.2,"v":27.7},{"d":47.4,"v":30.3},{"d":48.6,"v":32.6},{"d":50.5,"v":33.5},{"d":51.7,"v":34.1},{"d":53.2,"v":34.1},{"d":54.1,"v":33.7},{"d":55.3,"v":34.1},{"d":56.5,"v":32.6},{"d":58.3,"v":30.9},{"d":60.2,"v":28.9},{"d":62,"v":26.9},{"d":63.8,"v":24},{"d":65.6,"v":21.7},{"d":67.4,"v":19.7},{"d":69.3,"v":18.2},{"d":71.1,"v":17.6},{"d":72.9,"v":16.8},{"d":74.7,"v":15.6},{"d":76.5,"v":14.5},{"d":78.4,"v":13.3},{"d":80.2,"v":12.5},{"d":82,"v":11.9},{"d":83.8,"v":11},{"d":85.6,"v":10.7},{"d":87.4,"v":10.7},{"d":89.3,"v":10.5},{"d":91.1,"v":10.5},{"d":93.5,"v":10.4},{"d":94.7,"v":9.9},{"d":95.9,"v":9.6},{"d":96.5,"v":9.3},{"d":97.5,"v":10.7},{"d":98.4,"v":15.3},{"d":99.3,"v":21.1},{"d":100.5,"v":23.4},{"d":101.7,"v":24},{"d":102.3,"v":23.7},{"d":103.2,"v":22.5},{"d":104.7,"v":21.7},{"d":106.2,"v":20.5},{"d":107.4,"v":19.4},{"d":109.3,"v":18.2},{"d":111.1,"v":17.1},{"d":112.9,"v":15.9},{"d":114.8,"v":14.8},{"d":116.6,"v":13.6},{"d":118.4,"v":12.5},{"d":120.2,"v":11.6},{"d":121.4,"v":11},{"d":123.2,"v":10.7},{"d":125.1,"v":10.2},{"d":126.9,"v":10.2},{"d":128.7,"v":9.6},{"d":130.5,"v":8.7},{"d":132.3,"v":8.1},{"d":134.1,"v":7.8},{"d":136,"v":7.3},{"d":137.5,"v":7},{"d":139,"v":6.7},{"d":140.8,"v":6.4},{"d":142.6,"v":5.8},{"d":144.4,"v":6.4},{"d":146.3,"v":6.1},{"d":148.1,"v":5.8},{"d":149.9,"v":5.2},{"d":151.7,"v":4.7},{"d":153.5,"v":4.4},{"d":154.7,"v":4.7},{"d":156.3,"v":5.5},{"d":157.5,"v":5},{"d":158.5,"v":5.3},{"d":159.6,"v":5.2}],
"cadre": [{"d":57.4,"d2":125.5,"v":88.1,"v2":100}],
"titre": [{"d":91.6,"v":96.6,"t":"Trannes (Aube amont prise)"},{"d":91.6,"v":91.0,"t":"Débits naturels journaliers classés"}]
},
"encoding": {
"x": {"field":"d","type":"quantitative","scale":{"domain":[0,181],"nice":false,"zero":false},
"axis":{"title":null,"values":[0,31,59,90,120,151,181],"labelExpr":"datum.value == 0 ? '01 janv' : datum.value == 31 ? '01 févr' : datum.value == 59 ? '01 mars' : datum.value == 90 ? '01 avr' : datum.value == 120 ? '01 mai' : datum.value == 151 ? '01 juin' : ''","grid":false,"tickSize":5,"labelPadding":6,"labelFont":"Lato","labelFontSize":13.5,"labelColor":"#333333","domainColor":"#868686","tickColor":"#868686","labelFlush":false,"labelOverlap":false,"zindex":1}},
"y": {"field":"v","type":"quantitative","stack":null,"scale":{"domain":[0,100],"nice":false},
"axis":{"title":null,"values":[0,25,50,75,100],"grid":true,"gridColor":"#868686","gridWidth":1,"tickSize":5,"labelPadding":11,"labelFont":"Lato","labelFontSize":12.5,"labelColor":"#333333","domainColor":"#868686","tickColor":"#868686","zindex":0}}
},
"layer": [
{"data":{"name":"vh"},"mark":{"type":"area","clip":true},"encoding":{"fill":{"datum":"vicennal humide","type":"nominal","scale":{"domain":["vicennal humide","décennal humide","quinquennal humide","médian","quinquennal sec","décennal sec","vicennal sec"],"range":["#595959","#7f7f7f","#bfbfbf","#ffffff","#bfbfbf","#7f7f7f","#595959"]},"legend":{"title":null,"orient":"none","legendX":14.5,"legendY":621,"direction":"horizontal","columns":6,"gridAlign":"all","symbolType":"M-2,-0.6H2V0.6H-2Z","symbolSize":210,"symbolOffset":7,"symbolStrokeColor":"#000000","symbolStrokeWidth":1,"symbolOpacity":1,"labelOffset":10,"columnPadding":6,"rowPadding":10,"padding":0,"labelFont":"Lato","labelFontSize":13,"labelColor":"#000000","labelLimit":300}}}},
{"data":{"name":"dh"},"mark":{"type":"area","clip":true},"encoding":{"fill":{"datum":"décennal humide","type":"nominal"}}},
{"data":{"name":"qh"},"mark":{"type":"area","clip":true},"encoding":{"fill":{"datum":"quinquennal humide","type":"nominal"}}},
{"data":{"name":"med"},"mark":{"type":"area","clip":true},"encoding":{"fill":{"datum":"médian","type":"nominal"}}},
{"data":{"name":"qs"},"mark":{"type":"area","clip":true},"encoding":{"fill":{"datum":"quinquennal sec","type":"nominal"}}},
{"data":{"name":"ds"},"mark":{"type":"area","clip":true},"encoding":{"fill":{"datum":"décennal sec","type":"nominal"}}},
{"data":{"name":"vs"},"mark":{"type":"area","clip":true},"encoding":{"fill":{"datum":"vicennal sec","type":"nominal"}}},
{"data":{"name":"vh"},"mark":{"type":"line","clip":true,"color":"#000000","strokeWidth":1}},
{"data":{"name":"dh"},"mark":{"type":"line","clip":true,"color":"#000000","strokeWidth":1}},
{"data":{"name":"qh"},"mark":{"type":"line","clip":true,"color":"#000000","strokeWidth":1}},
{"data":{"name":"med"},"mark":{"type":"line","clip":true,"color":"#000000","strokeWidth":1}},
{"data":{"name":"qs"},"mark":{"type":"line","clip":true,"color":"#000000","strokeWidth":1}},
{"data":{"name":"ds"},"mark":{"type":"line","clip":true,"color":"#000000","strokeWidth":1}},
{"data":{"name":"vs"},"mark":{"type":"line","clip":true,"color":"#000000","strokeWidth":1}},
{"data":{"name":"y2019"},"mark":{"type":"line","clip":true,"strokeWidth":2.6,"strokeJoin":"round"},"encoding":{"stroke":{"datum":"2019","type":"nominal","scale":{"domain":["2019","2020","2021","2022"],"range":["#00b050","#f79646","#4bacc6","#ff0000"]},"legend":{"title":null,"orient":"none","legendX":170.7,"legendY":646,"direction":"horizontal","columns":4,"gridAlign":"all","symbolType":"M-2,0H2","symbolSize":210,"symbolOffset":7,"symbolStrokeWidth":3,"symbolOpacity":1,"labelOffset":9,"columnPadding":100,"padding":0,"labelFont":"Lato","labelFontSize":13,"labelColor":"#000000","labelLimit":300}}}},
{"data":{"name":"y2020"},"mark":{"type":"line","clip":true,"strokeWidth":2.6,"strokeJoin":"round"},"encoding":{"stroke":{"datum":"2020","type":"nominal"}}},
{"data":{"name":"y2021"},"mark":{"type":"line","clip":true,"strokeWidth":2.6,"strokeJoin":"round"},"encoding":{"stroke":{"datum":"2021","type":"nominal"}}},
{"data":{"name":"y2022"},"mark":{"type":"line","clip":true,"strokeWidth":3.2,"strokeJoin":"round"},"encoding":{"stroke":{"datum":"2022","type":"nominal"}}},
{"data":{"name":"cadre"},"mark":{"type":"rect","fill":"#ffffff","stroke":"#000000","strokeWidth":1.5},"encoding":{"x2":{"field":"d2"},"y2":{"field":"v2"}}},
{"data":{"name":"titre"},"mark":{"type":"text","font":"Lato","fontWeight":"bold","fontSize":24.5,"align":"center","baseline":"middle","color":"#000000"},"encoding":{"text":{"field":"t","type":"nominal"}}}
]
}
